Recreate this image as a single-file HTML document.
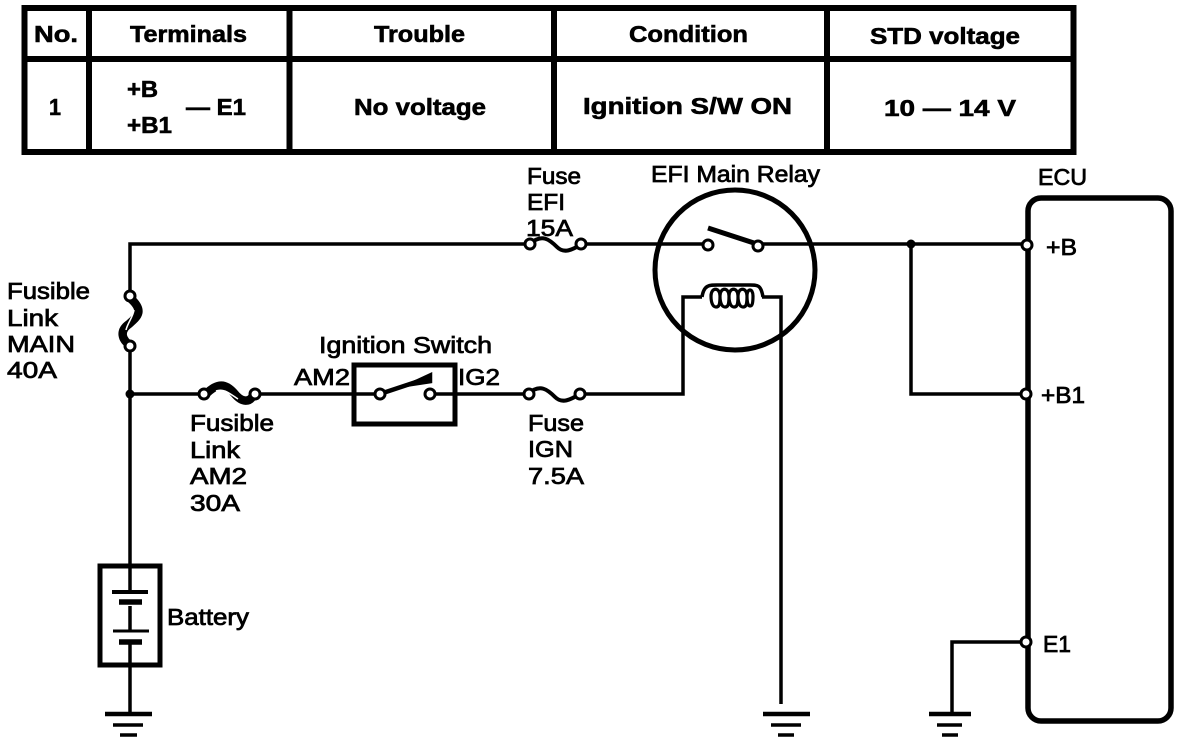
<!DOCTYPE html>
<html><head><meta charset="utf-8"><style>
html,body{margin:0;padding:0;background:#fff}
svg{display:block}
text{font-family:"Liberation Sans",sans-serif;fill:#000}
.t{font-size:23px;font-weight:bold;stroke:#000;stroke-width:.6px}
.l{font-size:23px;stroke:#000;stroke-width:.75px}
.n{fill:#fff;stroke:#000;stroke-width:3}
</style></head><body>
<svg width="1184" height="744" viewBox="0 0 1184 744" xmlns="http://www.w3.org/2000/svg">
<g fill="none" stroke="#000">
<rect x="24.5" y="8" width="1049" height="144" stroke-width="6"/>
<path d="M89 8V152M289.5 8V152M554 8V152M827 8V152M24 59H1073" stroke-width="6"/>
<!-- wires -->
<g stroke-width="3.5">
<path d="M130 295V244H530M582 244H708M760 244H1025"/>
<path d="M130 347V565M130 664V712"/>
<path d="M130 394H204M256 394H380M430 394H528M580 394H683V297H702M762 297H781V704"/>
<path d="M911 244V394H1025"/>
<path d="M1025 642H952V712"/>
</g>
<!-- fuses -->
<path d="M530 244C542 233 550 240 557 247C564 254 572 250 582 244" stroke-width="4"/>
<path d="M528 394C540 383 548 390 555 397C562 404 570 400 580 394" stroke-width="4"/>
<path d="M206 394C218 382 226 384 234 393C242 403 250 403 254 394" stroke-width="8.5"/>
<path d="M216 391C224 388 230 394 238 399" stroke="#fff" stroke-width="1.5"/>
<path d="M130 298C145 311 137 317 129 324C119 331 122 340 130 345" stroke-width="8.5"/>
<path d="M134 310C133 317 128 322 126 330" stroke="#fff" stroke-width="1.5"/>
<!-- relay -->
<circle cx="735" cy="270" r="80" stroke-width="5"/>
<path d="M708 228L757 244" stroke-width="5"/>
<path d="M702 297C704 284 710 285 720 285H750C758 285 761 285 763 297" stroke-width="3.5"/>
<path d="M711 296c0-9 9-9 9 0s-1 11-4 11-5-4-5-11zM720 296c0-9 9-9 9 0s-1 11-4 11-5-4-5-11zM729 296c0-9 9-9 9 0s-1 11-4 11-5-4-5-11zM738 296c0-9 9-9 9 0s-1 11-4 11-5-4-5-11zM747 296c0-8 6-8 6 0s-1 10-3 10-3-4-3-10z" stroke-width="3.2"/>
<!-- ignition switch -->
<rect x="354" y="365" width="101" height="59" stroke-width="5"/>
<path d="M380 394L428 378" stroke-width="4.5"/>
<path d="M405 386L431 374L431 382Z" fill="#000" stroke-width="2.5"/>
<!-- ECU -->
<rect x="1028" y="198" width="143" height="523" rx="13" stroke-width="5.5"/>
<!-- battery -->
<rect x="100" y="566" width="60" height="99" stroke-width="5"/>
<path d="M130 566V592M130 606V632M130 644V665" stroke-width="3.5"/>
<path d="M112 592H148" stroke-width="4"/>
<path d="M119 602H142M119 642H142" stroke-width="5.5"/>
<path d="M113 631H149" stroke-width="3"/>
<!-- grounds -->
<path d="M105 714H152M763 714H810M929 714H971" stroke-width="4.5"/>
<path d="M113 725H143M771 725H801M937 725H962" stroke-width="3.5"/>
<path d="M120 735H137M778 735H794M942 735H958" stroke-width="3.5"/>
</g>
<circle cx="130" cy="394" r="4.5"/><circle cx="911" cy="244" r="4.5"/>
<g class="n">
<circle cx="130" cy="296" r="5"/><circle cx="130" cy="346" r="5"/>
<circle cx="204" cy="394" r="5"/><circle cx="255" cy="394" r="5"/>
<circle cx="380" cy="394" r="5"/><circle cx="430" cy="394" r="5"/>
<circle cx="529" cy="394" r="5"/><circle cx="580" cy="394" r="5"/>
<circle cx="530" cy="244" r="5"/><circle cx="581" cy="244" r="5"/>
<circle cx="708" cy="245" r="5"/><circle cx="758" cy="246" r="5"/>
<circle cx="1027" cy="245" r="5"/><circle cx="1026" cy="394" r="5"/><circle cx="1026" cy="642" r="5"/>
</g>
<!-- table text -->
<text class="t" x="34" y="42" textLength="44" lengthAdjust="spacingAndGlyphs">No.</text>
<text class="t" x="130" y="42" textLength="117" lengthAdjust="spacingAndGlyphs">Terminals</text>
<text class="t" x="374" y="42" textLength="91" lengthAdjust="spacingAndGlyphs">Trouble</text>
<text class="t" x="629" y="42" textLength="119" lengthAdjust="spacingAndGlyphs">Condition</text>
<text class="t" x="870" y="44" textLength="150" lengthAdjust="spacingAndGlyphs">STD voltage</text>
<text class="t" x="49" y="115" textLength="12" lengthAdjust="spacingAndGlyphs">1</text>
<text class="t" x="127" y="97" textLength="31" lengthAdjust="spacingAndGlyphs">+B</text>
<text class="t" x="127" y="133" textLength="45" lengthAdjust="spacingAndGlyphs">+B1</text>
<text class="t" x="186" y="115" textLength="60" lengthAdjust="spacingAndGlyphs">— E1</text>
<text class="t" x="354" y="115" textLength="132" lengthAdjust="spacingAndGlyphs">No voltage</text>
<text class="t" x="583" y="114" textLength="209" lengthAdjust="spacingAndGlyphs">Ignition S/W ON</text>
<text class="t" x="884" y="116" textLength="132" lengthAdjust="spacingAndGlyphs">10 — 14 V</text>
<!-- labels -->
<text class="l" x="527" y="184" textLength="54" lengthAdjust="spacingAndGlyphs">Fuse</text>
<text class="l" x="527" y="210" textLength="38" lengthAdjust="spacingAndGlyphs">EFI</text>
<text class="l" x="526" y="236" textLength="47" lengthAdjust="spacingAndGlyphs">15A</text>
<text class="l" x="651" y="182" textLength="169" lengthAdjust="spacingAndGlyphs">EFI Main Relay</text>
<text class="l" x="1038" y="185" textLength="49" lengthAdjust="spacingAndGlyphs">ECU</text>
<text class="l" x="7" y="299" textLength="83" lengthAdjust="spacingAndGlyphs">Fusible</text>
<text class="l" x="7" y="326" textLength="51" lengthAdjust="spacingAndGlyphs">Link</text>
<text class="l" x="7" y="352" textLength="68" lengthAdjust="spacingAndGlyphs">MAIN</text>
<text class="l" x="7" y="378" textLength="50" lengthAdjust="spacingAndGlyphs">40A</text>
<text class="l" x="319" y="353" textLength="173" lengthAdjust="spacingAndGlyphs">Ignition Switch</text>
<text class="l" x="294" y="385" textLength="56" lengthAdjust="spacingAndGlyphs">AM2</text>
<text class="l" x="458" y="385" textLength="42" lengthAdjust="spacingAndGlyphs">IG2</text>
<text class="l" x="190" y="431" textLength="84" lengthAdjust="spacingAndGlyphs">Fusible</text>
<text class="l" x="190" y="458" textLength="50" lengthAdjust="spacingAndGlyphs">Link</text>
<text class="l" x="190" y="484" textLength="57" lengthAdjust="spacingAndGlyphs">AM2</text>
<text class="l" x="190" y="511" textLength="50" lengthAdjust="spacingAndGlyphs">30A</text>
<text class="l" x="528" y="431" textLength="56" lengthAdjust="spacingAndGlyphs">Fuse</text>
<text class="l" x="528" y="457" textLength="45" lengthAdjust="spacingAndGlyphs">IGN</text>
<text class="l" x="528" y="484" textLength="56" lengthAdjust="spacingAndGlyphs">7.5A</text>
<text class="l" x="167" y="625" textLength="82" lengthAdjust="spacingAndGlyphs">Battery</text>
<text class="l" x="1046" y="255" textLength="31" lengthAdjust="spacingAndGlyphs">+B</text>
<text class="l" x="1041" y="403" textLength="44" lengthAdjust="spacingAndGlyphs">+B1</text>
<text class="l" x="1043" y="652" textLength="28" lengthAdjust="spacingAndGlyphs">E1</text>
</svg>
</body></html>
